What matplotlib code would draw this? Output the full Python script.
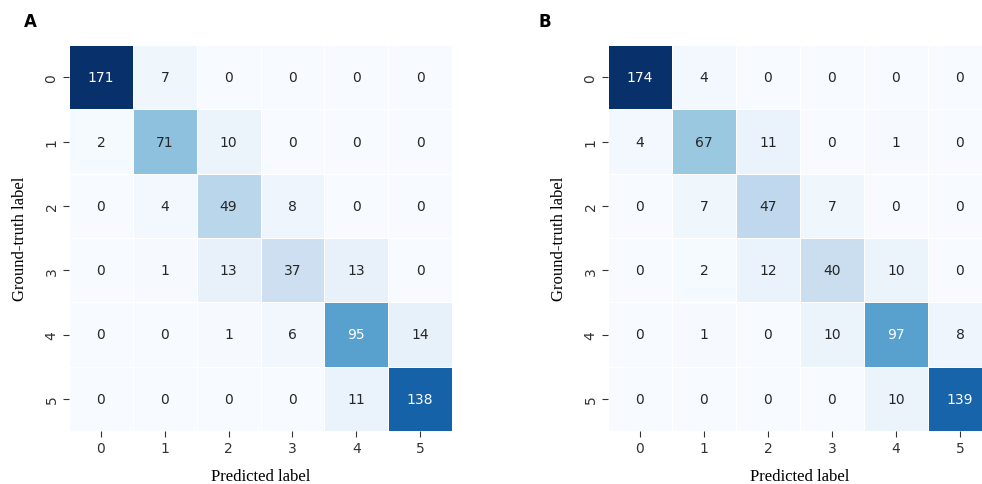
import numpy as np
import matplotlib
matplotlib.use("Agg")
import matplotlib.pyplot as plt
import seaborn as sns

classes = ["0", "1", "2", "3", "4", "5"]

# confusion matrix, panel A
cm_a = np.array([
    [171, 7, 0, 0, 0, 0],
    [2, 71, 10, 0, 0, 0],
    [0, 4, 49, 8, 0, 0],
    [0, 1, 13, 37, 13, 0],
    [0, 0, 1, 6, 95, 14],
    [0, 0, 0, 0, 11, 138],
])

# confusion matrix, panel B
cm_b = np.array([
    [174, 4, 0, 0, 0, 0],
    [4, 67, 11, 0, 1, 0],
    [0, 7, 47, 7, 0, 0],
    [0, 2, 12, 40, 10, 0],
    [0, 1, 0, 10, 97, 8],
    [0, 0, 0, 0, 10, 139],
])

fig = plt.figure(figsize=(9.82, 4.85), dpi=100)
ax_a = fig.add_axes([69 / 982, 1 - 432 / 485, 383 / 982, 386 / 485])
ax_b = fig.add_axes([608 / 982, 1 - 432 / 485, 384 / 982, 386 / 485])

for ax, cm, tag, x_tag in [(ax_a, cm_a, "A", 24), (ax_b, cm_b, "B", 538)]:
    sns.heatmap(cm, ax=ax, cmap="Blues", annot=True, fmt="d", cbar=False,
                linewidths=0.5, linecolor="white",
                xticklabels=classes, yticklabels=classes,
                annot_kws={"fontsize": 10})
    ax.tick_params(axis="both", labelsize=10, colors="#333333", length=4,
                   width=0.8)
    plt.setp(ax.get_yticklabels(), rotation=90, va="center")
    plt.setp(ax.get_xticklabels(), rotation=0)
    ax.set_xlabel("Predicted label", family="Liberation Serif", fontsize=12,
                  labelpad=9)
    ax.set_ylabel("Ground-truth label", family="Liberation Serif", fontsize=12,
                  labelpad=12)
    fig.text(x_tag / 982, 1 - 22 / 485, tag, fontsize=12, fontweight="bold",
             ha="left", va="center", family="DejaVu Sans")

fig.savefig("out.png", dpi=100)
